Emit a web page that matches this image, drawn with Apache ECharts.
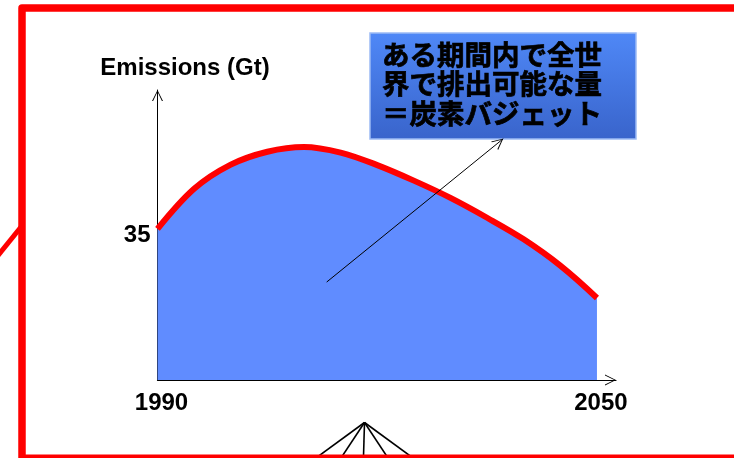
<!DOCTYPE html>
<html>
<head>
<meta charset="utf-8">
<script src="https://cdn.jsdelivr.net/npm/echarts@6/dist/echarts.min.js"></script>
<style>
  html, body { margin: 0; padding: 0; background: #fff; overflow: hidden; }
  #chart { width: 734px; height: 458px; }
</style>
</head>
<body>
<div id="chart"></div>
<script>
// Global emissions pathway (Gt), 1990–2050
const years = [1990, 1995, 2000, 2005, 2010, 2015, 2020, 2025, 2030, 2035, 2040, 2045, 2050];
const emissions = [35, 44.3, 49.9, 52.9, 54.0, 52.7, 49.8, 46.2, 42.2, 37.6, 32.6, 26.5, 19.0];
const xTickLabels = [1990, 2050];
const yTickLabels = [35];
const yAxisTitle = 'Emissions (Gt)';
const calloutLines = ['ある期間内で全世', '界で排出可能な量', '＝炭素バジェット'];
// pointer from inside the area up to the callout (year, Gt)
const pointerFrom = [2013.1, 22.7];
const pointerTo = [2037.2, 55.9];

// open "V" arrowhead; tip sits at the symbol centre
const openArrow = 'path://M5,0 M0,20 L5,10 L10,20 L9,20 L5,11.6 L1,20 Z';

const labelFont = {
  color: '#000',
  fontFamily: '"Liberation Sans", Arial, sans-serif',
  fontWeight: 'bold',
  fontSize: 24
};

const chart = echarts.init(document.getElementById('chart'), null, { renderer: 'canvas' });

chart.setOption({
  animation: false,
  backgroundColor: '#fff',
  grid: { left: 157.5, right: 118, top: 90, bottom: 78 },
  xAxis: {
    type: 'value',
    min: 1990,
    max: 2052.6,
    splitLine: { show: false },
    axisTick: { show: false },
    axisLine: {
      show: true,
      onZero: false,
      lineStyle: { color: '#000', width: 1.2 },
      symbol: ['none', openArrow],
      symbolSize: [11, 22]
    },
    axisLabel: Object.assign({
      customValues: xTickLabels,
      margin: 11,
      padding: [0, 0, 0, 8],
      formatter: v => String(v)
    }, labelFont)
  },
  yAxis: {
    type: 'value',
    min: 0,
    max: 67.2,
    name: yAxisTitle,
    nameLocation: 'end',
    nameGap: 10,
    nameTextStyle: Object.assign({ padding: [0, 0, 0, 55] }, labelFont),
    splitLine: { show: false },
    axisTick: { show: false },
    axisLine: {
      show: true,
      onZero: false,
      lineStyle: { color: '#000', width: 1 },
      symbol: ['none', openArrow],
      symbolSize: [11, 22]
    },
    axisLabel: Object.assign({
      customValues: yTickLabels,
      margin: 7,
      formatter: v => '{v|' + v + '}',
      rich: {
        v: Object.assign({ padding: [13, 0, 0, 0] }, labelFont)
      }
    }, labelFont)
  },
  series: [{
    type: 'line',
    data: years.map((y, i) => [y, emissions[i]]),
    smooth: 0.35,
    symbol: 'none',
    lineStyle: { color: '#ff0000', width: 6, cap: 'butt' },
    areaStyle: { color: '#608cff', opacity: 1 },
    z: 2,
    markLine: {
      silent: true,
      animation: false,
      symbol: ['none', openArrow],
      symbolSize: [11, 22],
      label: { show: false },
      lineStyle: { color: '#000', width: 1, type: 'solid' },
      data: [[{ coord: pointerFrom }, { coord: pointerTo }]]
    }
  }],
  graphic: [
    // slide frame
    {
      type: 'line', z: 0,
      shape: { x1: -2, y1: 255.5, x2: 21, y2: 227 },
      style: { stroke: '#ff0000', lineWidth: 5 }
    },
    {
      type: 'polyline', z: 1,
      shape: { points: [[22, 466], [22, 8], [734, 8]] },
      style: { fill: null, stroke: '#ff0000', lineWidth: 7.5, lineJoin: 'round' }
    },
    {
      type: 'line', z: 1,
      shape: { x1: 22, y1: 458.5, x2: 734, y2: 458.5 },
      style: { stroke: '#ff0000', lineWidth: 8 }
    },
    // connector fan below the axis
    {
      type: 'group', z: 1,
      children: [318, 342, 363.5, 387, 411].map(x => ({
        type: 'line',
        shape: { x1: 364.5, y1: 422.5, x2: 364.5 + (x - 364.5) * 1.1, y2: 422.5 + 34 * 1.1 },
        style: { stroke: '#000', lineWidth: 1.6 }
      }))
    },
    // callout box
    {
      type: 'group', z: 20,
      children: [
        {
          type: 'rect',
          shape: { x: 370, y: 33, width: 266, height: 106 },
          style: {
            fill: new echarts.graphic.LinearGradient(0, 0, 0, 1, [
              { offset: 0, color: '#4f88f7' },
              { offset: 1, color: '#3964cb' }
            ]),
            stroke: '#9cbaf5',
            lineWidth: 1.5
          }
        },
        {
          type: 'text',
          x: 382,
          y: 39.5,
          style: {
            text: calloutLines.join('\n'),
            fill: '#000',
            stroke: '#000',
            lineWidth: 0.7,
            font: 'bold 27.5px "Noto Sans CJK JP", sans-serif',
            lineHeight: 29.5,
            align: 'left',
            verticalAlign: 'top'
          }
        }
      ]
    }
  ]
});
</script>
</body>
</html>
